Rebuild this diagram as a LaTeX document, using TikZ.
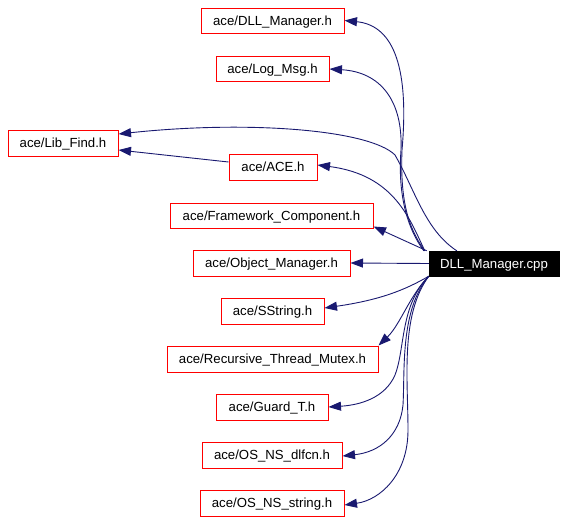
\documentclass[tikz,border=0pt]{standalone}
\usepackage{fontspec}
\setmainfont{Liberation Sans}
\usetikzlibrary{arrows.meta}
\definecolor{edgeblue}{HTML}{191970}
\tikzset{
  hbox/.style={draw=red, line width=1pt, inner sep=0pt, minimum height=25pt, text height=9.5pt, text depth=0pt, font=\fontsize{13.2}{15}\selectfont, text=black},
  cppbox/.style={fill=black, draw=black, inner sep=0pt, minimum height=25pt, text height=9.5pt, text depth=0pt, font=\fontsize{13.2}{15}\selectfont, text=white},
  dep/.style={draw=edgeblue, line width=0.9pt, -{Triangle[length=12.5pt,width=9pt]}}
}
\begin{document}
\begin{tikzpicture}[x=1pt,y=-1pt]
\useasboundingbox (0,0) rectangle (567,522);
\node[hbox, minimum width=143pt] (h1) at (272.5,20.5) {ace/DLL\_Manager.h};
\node[hbox, minimum width=113pt] (h2) at (272.5,69) {ace/Log\_Msg.h};
\node[hbox, minimum width=110pt, minimum height=26pt] (lib) at (63,143) {ace/Lib\_Find.h};
\node[hbox, minimum width=88pt, minimum height=26pt] (ace) at (273,167) {ace/ACE.h};
\node[hbox, minimum width=203pt] (fw) at (271.5,215.5) {ace/Framework\_Component.h};
\node[hbox, minimum width=157pt, minimum height=26pt] (om) at (271.5,263) {ace/Object\_Manager.h};
\node[cppbox, minimum width=130pt] (cpp) at (494,263.5) {DLL\_Manager.cpp};
\node[hbox, minimum width=103pt, minimum height=26pt] (ss) at (272.5,311) {ace/SString.h};
\node[hbox, minimum width=211pt, minimum height=26pt] (rtm) at (272.5,359) {ace/Recursive\_Thread\_Mutex.h};
\node[hbox, minimum width=112pt, minimum height=26pt] (gt) at (272,407) {ace/Guard\_T.h};
\node[hbox, minimum width=140pt, minimum height=26pt] (dl) at (272,455) {ace/OS\_NS\_dlfcn.h};
\node[hbox, minimum width=144pt, minimum height=26pt] (st) at (272,503) {ace/OS\_NS\_string.h};

\draw[dep] ([xshift=-4pt]cpp.north west) .. controls (408,228) and (400,200) .. (402,150)
  .. controls (410,60) and (390,25) .. (h1.east);
\draw[dep] ([xshift=-5pt]cpp.north west) .. controls (405,225) and (398,190) .. (401,150)
  .. controls (403,100) and (380,72) .. (h2.east);
\draw[dep] ([xshift=28pt]cpp.north west) .. controls (425,230) and (415,190) .. (395,155)
  .. controls (370,130) and (250,120) .. ([yshift=9pt]lib.east);
\draw[dep] ([yshift=5pt]ace.west) -- ([yshift=-7pt]lib.east);
\draw[dep] ([xshift=-4pt]cpp.north west) .. controls (410,220) and (395,175) .. ([yshift=2pt]ace.east);
\draw[dep] ([xshift=-2pt]cpp.north west) -- ([yshift=2pt]fw.south east);
\draw[dep] (cpp.west) -- (om.east);
\draw[dep] (cpp.south west) .. controls (405,290) and (380,300) .. ([yshift=3pt]ss.east);
\draw[dep] (cpp.south west) .. controls (410,295) and (400,325) .. (rtm.north east);
\draw[dep] (cpp.south west) .. controls (400,305) and (405,350) .. (395,375)
  .. controls (385,398) and (360,405) .. (gt.east);
\draw[dep] (cpp.south west) .. controls (400,310) and (405,370) .. (403,405)
  .. controls (400,435) and (380,452) .. ([yshift=-1pt]dl.east);
\draw[dep] (cpp.south west) .. controls (400,315) and (408,380) .. (408,430)
  .. controls (408,475) and (380,500) .. ([yshift=-2pt]st.east);
\end{tikzpicture}
\end{document}
